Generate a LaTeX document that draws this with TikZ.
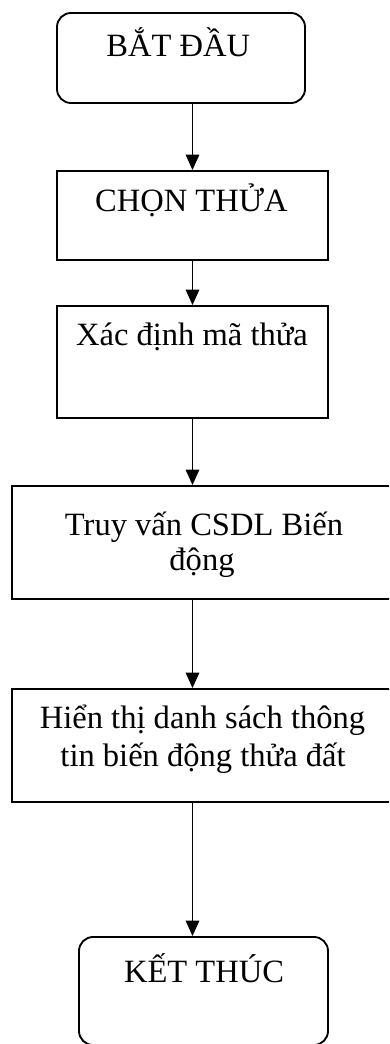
\documentclass[tikz,border=0pt]{standalone}
\usepackage{fontspec}
\setmainfont{Liberation Serif}
\usetikzlibrary{arrows.meta}
\begin{document}
\begin{tikzpicture}[x=0.75pt,y=-0.75pt,
  box/.style={draw, line width=1.4pt, inner sep=0pt, fill=white},
  rbox/.style={box, rounded corners=10.5pt},
  lbl/.style={anchor=base, inner sep=0pt, font=\fontsize{24.4pt}{28pt}\selectfont},
  conn/.style={line width=1.4pt, -{Triangle[length=11.5pt,width=10pt]}}]
\clip (0,0) rectangle (389,1044);
\fill[white] (0,0) rectangle (389,1044);
\coordinate (ax) at (192.5,0);
% boxes
\node[rbox, minimum width=186pt, minimum height=67.5pt] (b1) at (181,58) {};
\node[box, minimum width=203.25pt, minimum height=66.75pt] (b2) at (192.5,215.5) {};
\node[box, minimum width=203.25pt, minimum height=84pt] (b3) at (192.5,362) {};
\node[box, minimum width=286.5pt, minimum height=84.75pt] (b4) at (203,542.5) {};
\node[box, minimum width=286.5pt, minimum height=84.75pt] (b5) at (203,745.5) {};
\node[rbox, minimum width=186.75pt, minimum height=81pt] (b6) at (203.5,991) {};
% texts
\node[lbl] (t1) at (178.3,56.7) {BẮT ĐẦU};
\node[lbl] (t2) at (191.4,211.7) {CHỌN THỬA};
\node[lbl] (t3) at (192,345) {Xác định mã thửa};
\node[lbl] (t4a) at (204,535) {Truy vấn CSDL Biến};
\node[lbl] (t4b) at (202,570) {động};
\node[lbl] (t5a) at (202.5,728) {Hiển thị danh sách thông};
\node[lbl] (t5b) at (203,766) {tin biến động thửa đất};
\node[lbl] (t6) at (204,982.7) {KẾT THÚC};
% connectors
\draw[conn] (ax |- b1.south) -- (ax |- b2.north);
\draw[conn] (ax |- b2.south) -- (ax |- b3.north);
\draw[conn] (ax |- b3.south) -- (ax |- b4.north);
\draw[conn] (ax |- b4.south) -- (ax |- b5.north);
\draw[conn] (ax |- b5.south) -- (ax |- b6.north);
\end{tikzpicture}
\end{document}
